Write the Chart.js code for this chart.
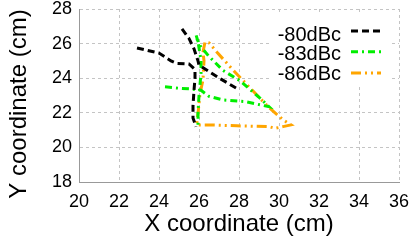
<!DOCTYPE html>
<html><head><meta charset="utf-8">
<script src="https://cdn.jsdelivr.net/npm/chart.js@4/dist/chart.umd.min.js"></script>
<style>html,body{margin:0;padding:0;background:#fff}</style>
</head><body>
<canvas id="c" width="420" height="242"></canvas>
<script>
// ---- data ----
const seriesLabels = ['-80dBc', '-83dBc', '-86dBc'];
const xTicks = [20, 22, 24, 26, 28, 30, 32, 34, 36];
const yTicks = [18, 20, 22, 24, 26, 28];
const xTitle = 'X coordinate (cm)';
const yTitle = 'Y coordinate (cm)';

const x80 = [22.9, 24.0, 24.6, 24.9, 25.5, 25.8, 25.8, 25.75, 25.7, 25.7, 25.85, null,
             25.15, 25.5, 25.75, 25.95, 26.0, 26.4, 27.05, 27.9];
const y80 = [25.75, 25.45, 25.0, 24.85, 24.82, 24.5, 24.0, 23.3, 22.4, 21.7, 21.2, null,
             26.85, 26.3, 25.7, 25.0, 24.75, 24.46, 23.98, 23.4];

const x83 = [24.3, 25.0, 25.55, 26.1, 26.5, 27.2, 28.3, 29.05, 29.5, 29.05, 28.05, 27.2, 26.47, 26.0, 25.85,
             25.97, 26.1, 26.1, 26.0, 25.95, 25.95];
const y83 = [23.5, 23.42, 23.38, 23.3, 22.95, 22.74, 22.65, 22.46, 22.35, 22.85, 23.85, 24.45, 25.3, 25.95, 26.5,
             25.98, 25.03, 24.27, 23.0, 22.0, 21.1];

const x86 = [26.2, 26.3, 26.5, 26.9, 27.6, 28.5, 29.5, 30.2, 30.6, 30.2, 29.8, 29.5, 27.9, 26.5, 25.88,
             25.97, 26.05, 26.2, 26.25, 26.2];
const y86 = [25.5, 26.1, 26.05, 25.5, 24.6, 23.5, 22.3, 21.6, 21.3, 21.2, 21.1, 21.2, 21.25, 21.3, 21.3,
             22.17, 23.1, 23.9, 25.0, 25.5];

const colors = ['#000000', '#00ee00', '#ffa500'];
const dashes = [[7, 4], [7, 4, 2, 4], [10, 4, 2, 4, 2, 4]];

const FONT = '"Liberation Sans", Arial, Helvetica, sans-serif';

function pts(xs, ys) { return xs.map((x, i) => ({ x: x, y: ys[i] })); }
const seriesData = [pts(x80, y80), pts(x83, y83), pts(x86, y86)];

const customDecor = {
  id: 'customDecor',
  afterDatasetsDraw(chart) {
    const ctx = chart.ctx;
    ctx.save();
    // legend background
    ctx.fillStyle = '#ffffff';
    ctx.fillRect(270, 15, 120, 70);
    const rowsY = [40.5, 59.8, 79.8];
    const lineY = [31, 51.7, 73];
    ctx.font = '20px ' + FONT;
    ctx.textAlign = 'right';
    ctx.textBaseline = 'alphabetic';
    ctx.fillStyle = '#000';
    seriesLabels.forEach((lab, i) => {
      ctx.fillText(lab, 341, rowsY[i]);
      ctx.beginPath();
      ctx.setLineDash(dashes[i]);
      ctx.strokeStyle = colors[i];
      ctx.lineWidth = 3;
      ctx.moveTo(351, lineY[i]);
      ctx.lineTo(381, lineY[i]);
      ctx.stroke();
    });
    ctx.setLineDash([]);
    // y axis title
    ctx.translate(19.5, 104);
    ctx.rotate(-Math.PI / 2);
    ctx.font = '24px ' + FONT;
    ctx.textAlign = 'center';
    ctx.textBaseline = 'middle';
    ctx.fillText(yTitle, 0, 0);
    ctx.restore();
  }
};

new Chart(document.getElementById('c'), {
  type: 'scatter',
  data: {
    datasets: seriesData.map((d, i) => ({
      label: seriesLabels[i],
      data: d,
      showLine: true,
      spanGaps: false,
      borderColor: colors[i],
      backgroundColor: colors[i],
      borderWidth: 3,
      borderDash: dashes[i],
      pointRadius: 0,
      fill: false,
      tension: 0
    }))
  },
  options: {
    responsive: false,
    animation: false,
    layout: { padding: { top: 9, right: 21, left: 0, bottom: 0 } },
    plugins: { legend: { display: false }, tooltip: { enabled: false } },
    scales: {
      x: {
        type: 'linear', min: 20, max: 36,
        afterBuildTicks: s => { s.ticks = xTicks.map(v => ({ value: v })); },
        afterFit: s => { s.height = 60; s.paddingLeft = 0; s.paddingRight = 0; },
        ticks: { color: '#000', font: { family: FONT, size: 18 }, padding: 9, maxRotation: 0, autoSkip: false },
        grid: { color: '#c4c4c4', lineWidth: 1, drawTicks: false },
        border: { display: true, color: '#999999', width: 1, dash: [3, 3] },
        title: { display: true, text: xTitle, color: '#000', font: { family: FONT, size: 24 }, padding: { top: 0, bottom: 3 } }
      },
      y: {
        type: 'linear', min: 18, max: 28,
        afterBuildTicks: s => { s.ticks = yTicks.map(v => ({ value: v })); },
        afterFit: s => { s.width = 79; s.paddingTop = 0; s.paddingBottom = 0; },
        ticks: { color: '#000', font: { family: FONT, size: 18 }, padding: 7, autoSkip: false },
        grid: { color: '#c4c4c4', lineWidth: 1, drawTicks: false },
        border: { display: true, color: '#999999', width: 1, dash: [3, 3] },
        title: { display: false }
      }
    }
  },
  plugins: [customDecor]
});
</script>
</body></html>
